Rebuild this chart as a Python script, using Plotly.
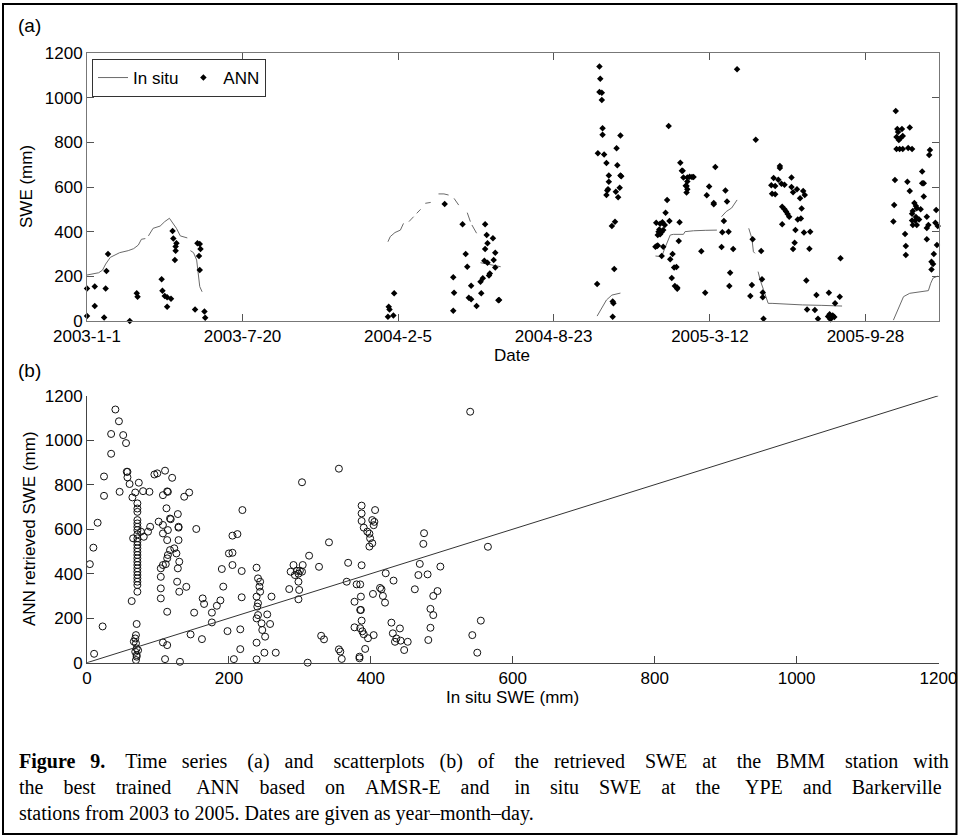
import numpy as np
import pandas as pd
import plotly.graph_objects as go

W, H = 959, 839

# ---------------- Panel (a) data: days since 2003-01-01 ----------------
insitu_day = [0, 8, 15, 20, 24, 30, 42, 53, 60, 66, 70, 75, None, 79, 85, 94, 100, 106, 110, 115, 120, 126, 129, None,
              133, 137, 141, 143, 145, 148, None,
              387, 390, 396, 403, 407, None, 414, 420, None, 424, 429, None, 435, 442, None, 452, 459, 465, None,
              472, 478, None, 489, 493, None, 495, 501, None, 506, 515, 525, 532, None,
              656, 662, 668, 675, 681, 686, None,
              731, 739, 743, 748, 750, 754, 767, 769, 780, 795, 810, None, 816, 822, 829, 836, None,
              851, 855, 857, 859, None, 863, 866, 870, 874, 876, 881, 900, 920, 945, 971, None,
              1037, 1050, 1058, 1071, 1082, 1085, 1088, 1094]
insitu_swe = [206, 213, 216, 228, 255, 285, 306, 315, 324, 340, 366, 369, None, 381, 415, 425, 445, 460, 440, 415, 381, 375, 372, None,
              315, 306, 273, 198, 154, 131, None,
              355, 378, 396, 407, 437, None, 445, 467, None, 482, 500, None, 527, 531, None, 569, 569, 564, None,
              549, 519, None, 485, 445, None, 430, 393, None, 261, 255, 245, 243, None,
              22, 57, 94, 116, 121, 125, None,
              291, 288, 325, 366, 385, 388, 388, 400, 404, 406, 407, None, 467, 490, 506, 542, None,
              415, 370, 310, 303, None, 221, 180, 140, 100, 79, 79, 75, 72, 70, 67, None,
              4, 109, 124, 131, 136, 169, 192, 201]

ann_day = [0, 0, 10, 10, 22, 24, 27, 25, 55, 64, 65, 96, 97, 100, 103, 103, 108, 110, 111, 114, 114, 115, 113,
           139, 142, 145, 146, 144, 145, 151, 152,
           388, 389, 387, 394, 395, 460, 471, 472, 471, 483, 487, 489, 494, 491, 494, 501, 507, 506, 509, 512, 514,
           515, 512, 511, 515, 518, 517, 522, 525, 523, 525, 530, 529,
           659, 660, 659, 662, 662, 663, 663, 657, 665, 668, 671, 671, 669, 670, 668, 675, 679, 678, 656, 676, 677,
           676, 686, 681, 682, 686, 687, 685, 683, 680,
           748, 836, 860, 763, 765, 766, 767, 772, 775, 778, 780, 772, 770, 771, 772, 771, 808, 800, 797, 806, 806,
           821, 823, 819, 817, 825, 746, 744, 749, 732, 737, 740, 743, 736, 735, 739, 741, 734, 737, 762, 734, 731,
           741, 733, 739, 750, 753, 761, 755, 758, 752, 756, 759, 759, 790, 816, 831, 856, 867, 795, 827, 826, 855,
           853, 868, 869, 869, 870, 891, 891, 883, 889, 893, 897, 880, 885, 881, 885, 906, 906, 908, 913, 894, 897,
           899, 901, 903, 894, 911, 910, 908, 914,
           917, 923, 921, 919, 918, 922, 930, 929, 969, 925, 938, 954, 968, 926, 936, 962, 940, 953, 955, 957, 959,
           961, 956,
           1040, 1042, 1043, 1041, 1048, 1058, 1044, 1046, 1049, 1041, 1045, 1049, 1056, 1061, 1084, 1083, 1039,
           1038, 1037, 1055, 1058, 1074, 1074, 1076, 1076, 1064, 1066, 1067, 1062, 1061, 1066, 1061, 1065, 1070,
           1072, 1062, 1067, 1080, 1082, 1080, 1092, 1091, 1094, 1080, 1052, 1053, 1053, 1093, 1089, 1086, 1088, 1086]
ann_swe = [146, 22, 154, 67, 16, 146, 300, 224, 0, 124, 109, 187, 136, 112, 106, 64, 100, 403, 369, 315, 334, 348, 273,
           52, 348, 345, 322, 291, 228, 42, 15,
           64, 52, 19, 25, 124, 524, 196, 127, 46, 433, 300, 243, 158, 104, 97, 67, 124, 176, 191, 433, 385,
           348, 322, 270, 261, 213, 204, 370, 306, 273, 239, 94, 93,
           1139, 1085, 1025, 1022, 990, 863, 834, 751, 746, 708, 651, 624, 584, 590, 564, 425, 444, 233, 166, 87, 80,
           19, 831, 773, 697, 651, 648, 597, 554, 579,
           873, 1127, 812, 709, 673, 673, 642, 643, 646, 645, 645, 625, 606, 604, 590, 575, 689, 602, 563, 528, 523,
           584, 535, 448, 397, 400, 542, 485, 448, 440, 436, 442, 430, 410, 400, 398, 408, 385, 388, 442, 338, 332,
           332, 336, 291, 276, 300, 358, 240, 242, 193, 157, 150, 144, 312, 331, 322, 366, 313, 127, 216, 157, 161,
           112, 187, 128, 106, 10, 694, 685, 640, 633, 615, 610, 608, 605, 570, 568, 642, 600, 577, 590, 512, 500,
           490, 479, 467, 433, 407, 350, 322, 454,
           550, 564, 582, 504, 459, 396, 400, 324, 281, 181, 116, 127, 109, 52, 49, 79, 10, 20, 30, 14, 25,
           18, 8,
           940, 860, 846, 824, 860, 866, 810, 818, 828, 770, 770, 770, 775, 770, 766, 743, 631,
           519, 445, 624, 582, 669, 617, 617, 557, 528, 515, 505, 493, 480, 466, 450, 450, 455,
           500, 430, 430, 467, 430, 416, 497, 440, 425, 366, 390, 336, 296, 340, 300, 265, 255, 231]

date_tick_labels = ["2003-1-1", "2003-7-20", "2004-2-5", "2004-8-23", "2005-3-12", "2005-9-28"]
date_range = ["2003-01-01", "2005-12-31"]

# ---------------- Panel (b) data ----------------
insitu_x = [10, 4, 9, 15, 22, 24, 24, 34, 34, 40, 45, 51, 55, 56, 57, 57, 60, 46, 64, 68, 73, 79, 88,
            71, 71, 71, 71, 71, 71, 71, 71, 71, 71, 71, 71, 71, 71, 71, 71, 71, 71, 71, 71, 71, 71, 71, 71,
            65, 63, 70, 69, 68, 69, 70, 68, 70, 70, 69, 66, 72,
            76, 86, 89, 80, 95, 99, 110, 120, 107, 113, 114, 101, 107, 107, 117, 118, 112, 114, 128, 129, 129, 129,
            113, 117, 114, 113, 111, 107, 104, 104, 104, 104, 113, 107, 113, 110, 123, 126, 130, 128, 127, 130, 140,
            137, 144, 154, 131, 146, 151, 162, 163, 165, 176, 176, 183, 188, 190, 192, 198, 200, 205, 205, 205, 212,
            218, 218, 216, 216, 207, 219,
            239, 241, 244, 243, 244, 239, 241, 240, 241, 239, 246, 247, 251, 239, 250, 239, 254, 258, 260, 266,
            291, 287, 293, 296, 298, 300, 298, 299, 298, 285,
            540, 355, 303, 387, 387, 387, 390, 395, 398, 399, 402, 398, 406, 402, 405, 404,
            341, 313, 304, 303, 327, 368, 387, 366, 380, 385, 377, 386, 385, 386, 387, 377, 385, 388, 390, 396, 392,
            384, 384, 355, 357, 359, 330, 334, 311, 403, 413, 415, 417, 420, 421, 432, 404, 429, 431, 434, 441, 442,
            447, 452, 436, 462, 467, 469, 474, 475, 480, 481, 484, 484, 488, 488, 494, 498, 543, 555, 550, 565]
ann_y = [40, 443, 517, 629, 163, 750, 837, 939, 1028, 1138, 1085, 1023, 987, 858, 858, 833, 803, 768, 743, 765, 809, 771, 768,
         716, 693, 678, 641, 626, 611, 596, 577, 559, 544, 529, 514, 499, 484, 469, 454, 439, 424, 409, 394, 379, 364, 349, 319,
         559, 277, 174, 124, 109, 87, 64, 49, 34, 27, 12, 95, 56,
         589, 589, 611, 566, 846, 851, 863, 831, 753, 770, 768, 634, 581, 619, 648, 645, 694, 596, 668, 611, 607, 551,
         551, 506, 484, 469, 443, 439, 424, 386, 334, 289, 229, 91, 79, 16, 514, 491, 454, 424, 364, 319, 341,
         746, 765, 601, 4, 127, 225, 106, 289, 264, 225, 181, 256, 280, 421, 342, 142, 491, 494, 439, 571, 578,
         412, 294, 150, 61, 16, 686,
         427, 379, 364, 342, 319, 297, 267, 252, 214, 199, 177, 147, 117, 90, 45, 15, 217, 174, 297, 45,
         439, 409, 394, 413, 400, 413, 364, 327, 285, 331,
         1128, 872, 811, 706, 671, 637, 607, 589, 580, 559, 537, 522, 686, 641, 633, 618,
         541, 481, 439, 409, 431, 449, 438, 364, 352, 352, 274, 297, 237, 237, 189, 159, 155, 141, 128, 110, 62,
         27, 20, 60, 50, 17, 121, 105, 0, 309, 336, 330, 300, 270, 402, 369, 124, 180, 132, 94, 154, 99,
         57, 94, 109, 330, 394, 444, 534, 582, 397, 102, 242, 157, 214, 300, 322, 432, 124, 189, 45, 521]
one_to_one = [0, 1200]
swe_ticks = [0, 200, 400, 600, 800, 1000, 1200]

caption_lines = [
    "<b>Figure 9.</b> Time series (a) and scatterplots (b) of the retrieved SWE at the BMM station with",
    "the best trained ANN based on AMSR-E and in situ SWE at the YPE and Barkerville",
    "stations from 2003 to 2005. Dates are given as year\u2013month\u2013day.",
]
# extra non-breaking spaces used to imitate the justified lines of the caption
caption_extra_spaces = [39, 48, 0]

# ---------------- build ----------------
base = pd.Timestamp("2003-01-01")
def to_dates(days):
    return [None if d is None else base + pd.Timedelta(days=d) for d in days]

SANS = "Liberation Sans, Arial, sans-serif"
SERIF = "Liberation Serif, Times New Roman, serif"

def px2x(p):
    return p / W

def px2y(p):
    return 1 - p / H

def justify(line, extra):
    if extra <= 0:
        return line
    words = line.split(" ")
    gaps = len(words) - 1
    out = words[0]
    acc = 0.0
    for i in range(1, len(words)):
        target = extra * i / gaps
        n = int(round(target - acc))
        acc += n
        out += " " + "\u00a0" * n + words[i]
    return out

fig = go.Figure()
fig.add_trace(go.Scatter(x=to_dates(insitu_day), y=insitu_swe, mode="lines", name="In situ",
                         line=dict(color="#6a6a6a", width=1), connectgaps=False,
                         xaxis="x", yaxis="y"))
fig.add_trace(go.Scatter(x=to_dates(ann_day), y=ann_swe, mode="markers", name="ANN",
                         marker=dict(symbol="diamond", size=5, color="black", line=dict(width=0)),
                         xaxis="x", yaxis="y", cliponaxis=False))
fig.add_trace(go.Scatter(x=insitu_x, y=ann_y, mode="markers", showlegend=False,
                         marker=dict(symbol="circle-open", size=7, color="#111", line=dict(width=1)),
                         xaxis="x2", yaxis="y2", cliponaxis=False))
fig.add_trace(go.Scatter(x=one_to_one, y=one_to_one, mode="lines", showlegend=False,
                         line=dict(color="#333", width=1), xaxis="x2", yaxis="y2"))

xdom = [px2x(87), px2x(938.5)]
axis_common = dict(showgrid=False, zeroline=False, showline=True, ticks="inside", ticklen=7,
                   automargin=False, linewidth=1,
                   tickfont=dict(family=SANS, size=17, color="black"))

fig.update_layout(
    template="none",
    width=W, height=H, margin=dict(l=0, r=0, t=0, b=0, pad=0, autoexpand=False),
    paper_bgcolor="white", plot_bgcolor="white",
    showlegend=True,
    legend=dict(orientation="h", x=px2x(92), y=px2y(59), xanchor="left", yanchor="top",
                bordercolor="#333", borderwidth=1, bgcolor="white",
                font=dict(family=SANS, size=17, color="black"), itemwidth=30),
    xaxis=dict(domain=xdom, anchor="y", type="date",
               range=date_range, tickmode="array",
               tickvals=[pd.Timestamp(t) for t in date_tick_labels], ticktext=date_tick_labels,
               linecolor="#777", tickcolor="#555", mirror="ticks", **axis_common),
    yaxis=dict(domain=[px2y(321), px2y(53)], anchor="x", range=[0, 1200], tickmode="array",
               tickvals=swe_ticks, linecolor="#777", tickcolor="#555", mirror="ticks", **axis_common),
    xaxis2=dict(domain=xdom, anchor="y2", range=[0, 1200], tickmode="array", tickvals=swe_ticks,
                linecolor="#444", tickcolor="#444", **axis_common),
    yaxis2=dict(domain=[px2y(662.7), px2y(395.7)], anchor="x2", range=[0, 1200], tickmode="array",
                tickvals=swe_ticks, linecolor="#444", tickcolor="#444", **axis_common),
)

ann = []
def add_text(text, xp, yp, size=17, family=SANS, angle=0, xanchor="center", yanchor="middle"):
    ann.append(dict(text=text, x=px2x(xp), y=px2y(yp), xref="paper", yref="paper", showarrow=False,
                    xanchor=xanchor, yanchor=yanchor, textangle=angle,
                    font=dict(family=family, size=size, color="black")))

add_text("(a)", 16, 26, size=19, xanchor="left")
add_text("(b)", 16, 370, size=19, xanchor="left")
add_text("SWE (mm)", 27, 187, angle=-90)
add_text("Date", 512, 355)
add_text("ANN retrieved SWE (mm)", 29, 529, angle=-90)
add_text("In situ SWE (mm)", 512, 697)
for i, (line, extra) in enumerate(zip(caption_lines, caption_extra_spaces)):
    add_text(justify(line, extra), 17, 761 + 26 * i, size=20, family=SERIF, xanchor="left")
fig.update_layout(annotations=ann)

fig.add_shape(type="rect", xref="paper", yref="paper", x0=px2x(3), x1=px2x(956.5), y0=px2y(4), y1=px2y(834),
              line=dict(color="black", width=2), fillcolor="rgba(0,0,0,0)")

fig.write_html("out.html")
